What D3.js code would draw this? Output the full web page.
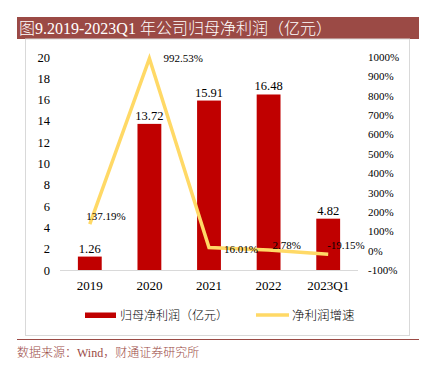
<!DOCTYPE html>
<html><head><meta charset="utf-8">
<script src="https://cdn.jsdelivr.net/npm/d3@7"></script>
<style>body{margin:0;background:#fff}svg{display:block}</style>
</head><body>
<script>
const categories = ["2019","2020","2021","2022","2023Q1"];
const profit = [1.26, 13.72, 15.91, 16.48, 4.82];
const growth = [137.19, 992.53, 16.01, 2.78, -19.15];
const leftTicks = [0,2,4,6,8,10,12,14,16,18,20];
const rightTicks = [-100,0,100,200,300,400,500,600,700,800,900,1000];
const growthLabelOffsets = [[-3.5,-8],[14,0],[15,1.5],[4,-4.5],[-1,-9]];

const W=430,H=365;
const svg=d3.select("body").append("svg").attr("width",W).attr("height",H);
const serif="'Liberation Serif','Times New Roman',serif";
const cjk="'Noto Sans CJK SC','Noto Sans CJK JP',sans-serif";
const brand="#9b4a45";

// title bar
svg.append("rect").attr("x",17).attr("y",17).attr("width",402).attr("height",22).attr("fill",brand);
const tt=svg.append("text").attr("x",19).attr("y",34).attr("fill","#fff").attr("font-size",16);
tt.append("tspan").attr("font-family",cjk).attr("font-weight",300).text("图");
tt.append("tspan").attr("font-family",serif).text("9.2019-2023Q1 ");
tt.append("tspan").attr("font-family",cjk).attr("font-weight",300).text("年公司归母净利润（亿元）");

// box
svg.append("rect").attr("x",25.5).attr("y",39).attr("width",384).attr("height",296.5)
  .attr("fill","none").attr("stroke","#d9d9d9").attr("stroke-width",1);
svg.append("line").attr("x1",17).attr("x2",419).attr("y1",339.5).attr("y2",339.5)
  .attr("stroke",brand).attr("stroke-width",1);
const src=svg.append("text").attr("x",17).attr("y",357).attr("fill",brand).attr("font-size",12);
src.append("tspan").attr("font-family",cjk).attr("font-weight",300).text("数据来源：");
src.append("tspan").attr("font-family",serif).text("Wind");
src.append("tspan").attr("font-family",cjk).attr("font-weight",300).text("，财通证券研究所");

// scales
const x=d3.scaleBand().domain(categories).range([60,358]).paddingInner(0.6).paddingOuter(0.3);
const yL=d3.scaleLinear().domain([0,20]).range([270,57]);
const yR=d3.scaleLinear().domain([-100,1000]).range([270,57]);

// left axis
const axL=svg.append("g").attr("transform","translate(50,0)")
  .call(d3.axisLeft(yL).tickValues(leftTicks).tickSize(0).tickPadding(0));
axL.select(".domain").remove();
axL.selectAll("text").attr("font-family",serif).attr("font-size",12.5).attr("fill","#000");

// right axis
const axR=svg.append("g").attr("transform","translate(368,0)")
  .call(d3.axisRight(yR).tickValues(rightTicks).tickSize(0).tickPadding(0).tickFormat(d=>d+"%"));
axR.select(".domain").remove();
axR.selectAll("text").attr("font-family",serif).attr("font-size",11).attr("fill","#000");

// bars
svg.append("g").selectAll("rect").data(profit).join("rect")
  .attr("x",(d,i)=>x(categories[i])).attr("width",x.bandwidth())
  .attr("y",d=>yL(d)).attr("height",d=>yL(0)-yL(d)).attr("fill","#c00000");

// baseline
svg.append("line").attr("x1",60).attr("x2",358).attr("y1",270.5).attr("y2",270.5)
  .attr("stroke","#d9d9d9").attr("stroke-width",1);

// x axis
const axX=svg.append("g").attr("transform","translate(0,270)")
  .call(d3.axisBottom(x).tickSize(0).tickPadding(0));
axX.select(".domain").remove();
axX.selectAll("text").attr("font-family",serif).attr("font-size",13).attr("fill","#000")
  .attr("dy",null).attr("y",20);

// bar labels
svg.append("g").selectAll("text").data(profit).join("text")
  .attr("x",(d,i)=>x(categories[i])+x.bandwidth()/2).attr("y",d=>yL(d)-4)
  .attr("text-anchor","middle").attr("font-family",serif).attr("font-size",12.5)
  .text(d=>d.toFixed(2));

// line
const cx=(i)=>x(categories[i])+x.bandwidth()/2;
svg.append("path").datum(growth)
  .attr("d",d3.line().x((d,i)=>cx(i)).y(d=>yR(d)))
  .attr("fill","none").attr("stroke","#ffd966").attr("stroke-width",3.5).attr("stroke-linejoin","miter");

svg.append("g").selectAll("text").data(growth).join("text")
  .attr("x",(d,i)=>cx(i)+growthLabelOffsets[i][0])
  .attr("y",(d,i)=>yR(d)+growthLabelOffsets[i][1])
  .attr("dy","0.35em").attr("font-family",serif).attr("font-size",11).attr("fill","#000")
  .text(d=>d.toFixed(2)+"%");

// legend
svg.append("rect").attr("x",85).attr("y",312.5).attr("width",31).attr("height",5.5).attr("fill","#c00000");
svg.append("text").attr("x",120).attr("y",319.5).attr("font-family",cjk).attr("font-weight",300).attr("font-size",12).text("归母净利润（亿元）");
svg.append("line").attr("x1",256).attr("x2",289).attr("y1",315).attr("y2",315).attr("stroke","#ffd966").attr("stroke-width",3.5);
svg.append("text").attr("x",292).attr("y",319.5).attr("font-family",cjk).attr("font-weight",300).attr("font-size",12.5).text("净利润增速");
</script>
</body></html>
